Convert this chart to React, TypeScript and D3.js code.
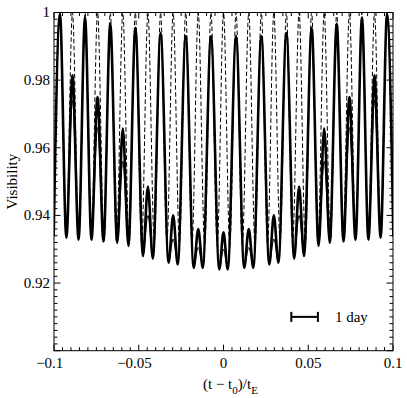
import * as d3 from 'd3';

const width = 407;
const height = 398;
const margin = { top: 12.5, right: 14, bottom: 47.3, left: 54 };

// keypoints (peaks / troughs) of the two solid curves
const keyX = [-0.1002, -0.0965, -0.0927, -0.0891, -0.0855, -0.0817, -0.0779, -0.0743, -0.0708, -0.0668,
  -0.0627, -0.0594, -0.0561, -0.0520, -0.0475, -0.0446, -0.0417, -0.0371, -0.0324, -0.0297, -0.0270,
  -0.0223, -0.0176, -0.0149, -0.0122, -0.0074, -0.0025, 0, 0.0025, 0.0074, 0.0122, 0.0149, 0.0176,
  0.0223, 0.0270, 0.0297, 0.0324, 0.0371, 0.0417, 0.0446, 0.0475, 0.0520, 0.0561, 0.0594, 0.0627,
  0.0668, 0.0708, 0.0743, 0.0779, 0.0817, 0.0855, 0.0891, 0.0927, 0.0965, 0.1002];

const thickV = [0.9338, 0.9997, 0.9334, 0.9814, 0.9328, 0.9985, 0.9328, 0.9750, 0.9323, 0.9967,
  0.9319, 0.9657, 0.9310, 0.9955, 0.9280, 0.9485, 0.9272, 0.9940, 0.9260, 0.9400, 0.9255,
  0.9930, 0.9245, 0.9360, 0.9245, 0.9930, 0.9240, 0.9350, 0.9240, 0.9930, 0.9245, 0.9360, 0.9245,
  0.9930, 0.9255, 0.9400, 0.9260, 0.9940, 0.9272, 0.9485, 0.9280, 0.9955, 0.9310, 0.9657, 0.9319,
  0.9967, 0.9323, 0.9750, 0.9328, 0.9985, 0.9328, 0.9814, 0.9334, 0.9997, 0.9338];

const thinV = [0.9340, 0.9992, 0.9336, 0.9740, 0.9330, 0.9980, 0.9330, 0.9660, 0.9325, 0.9962,
  0.9321, 0.9560, 0.9312, 0.9950, 0.9285, 0.9400, 0.9277, 0.9935, 0.9265, 0.9330, 0.9260,
  0.9925, 0.9250, 0.9305, 0.9250, 0.9925, 0.9245, 0.9300, 0.9245, 0.9925, 0.9250, 0.9305, 0.9250,
  0.9925, 0.9260, 0.9330, 0.9265, 0.9935, 0.9277, 0.9400, 0.9285, 0.9950, 0.9312, 0.9560, 0.9321,
  0.9962, 0.9325, 0.9660, 0.9330, 0.9980, 0.9330, 0.9740, 0.9336, 0.9992, 0.9340];

// dashed curve keypoints
const dashX = [-0.1002, -0.0965, -0.0928, -0.0891, -0.0854, -0.0817, -0.0780, -0.0743, -0.0705, -0.0668,
  -0.0631, -0.0594, -0.0557, -0.0520, -0.0483, -0.0446, -0.0408, -0.0371, -0.0334, -0.0297, -0.0260,
  -0.0223, -0.0186, -0.0149, -0.0111, -0.0074, -0.0037, 0, 0.0037, 0.0074, 0.0111, 0.0149, 0.0186,
  0.0223, 0.0260, 0.0297, 0.0334, 0.0371, 0.0408, 0.0446, 0.0483, 0.0520, 0.0557, 0.0594, 0.0631,
  0.0668, 0.0705, 0.0743, 0.0780, 0.0817, 0.0854, 0.0891, 0.0928, 0.0965, 0.1002];

const dashV = [0.9338, 1, 0.9336, 1, 0.9330, 1, 0.9330, 1, 0.9325, 1,
  0.9322, 1, 0.9315, 1, 0.9315, 1, 0.9320, 1, 0.9320, 1, 0.9316,
  1, 0.9312, 1, 0.9310, 1, 0.9310, 1, 0.9310, 1, 0.9310, 1, 0.9312,
  1, 0.9316, 1, 0.9320, 1, 0.9320, 1, 0.9315, 1, 0.9315, 1, 0.9322,
  1, 0.9325, 1, 0.9330, 1, 0.9330, 1, 0.9336, 1, 0.9338];

const xTickValues = [-0.1, -0.05, 0, 0.05, 0.1];
const xTickLabels = ['\u22120.1', '\u22120.05', '0', '0.05', '0.1'];
const yTickValues = [0.92, 0.94, 0.96, 0.98, 1];
const yTickLabels = ['0.92', '0.94', '0.96', '0.98', '1'];

const dayBar = [0.04, 0.0557];
const dayLevel = 0.91;

const font = '"Liberation Serif", "Times New Roman", serif';
const fs = 15;

// approx width of the digits part of a label, for centring the number on its tick
const digitsWidth = (s: string) =>
  s.replace('\u2212', '').split('').reduce((w, c) => w + (c === '.' ? 0.25 : 0.5) * fs, 0);

export default function App() {
  const x = d3.scaleLinear().domain([-0.1, 0.1]).range([margin.left, width - margin.right]);
  const y = d3.scaleLinear().domain([0.9, 1]).range([height - margin.bottom, margin.top]);

  const line = d3.line<[number, number]>()
    .x(d => x(d[0]))
    .y(d => y(d[1]))
    .curve(d3.curveMonotoneX);

  const thick = line(keyX.map((v, i) => [v, thickV[i]]));
  const thin = line(keyX.map((v, i) => [v, thinV[i]]));
  const dashed = line(dashX.map((v, i) => [v, dashV[i]]));

  const x0 = x(-0.1), x1 = x(0.1), y0 = y(0.9), y1 = y(1);
  const isMajor = (v: number, step: number) => Math.abs(v / step - Math.round(v / step)) < 1e-6;

  const xMinor = x.ticks(40);
  const yMinor = y.ticks(50);

  return (
    <div style={{ position: 'fixed', left: 0, top: 0 }}>
      <svg width={width} height={height} style={{ display: 'block', background: '#fff' }}>
        <defs>
          <clipPath id="plot">
            <rect x={x0} y={y1} width={x1 - x0} height={y0 - y1} />
          </clipPath>
        </defs>
        <g clipPath="url(#plot)" fill="none" stroke="#000">
          <path d={dashed ?? ''} strokeWidth={1} strokeDasharray="4.5,2.5" />
          <path d={thin ?? ''} strokeWidth={1} />
          <path d={thick ?? ''} strokeWidth={2.6} />
        </g>

        {/* ticks on all four sides, pointing inward */}
        <g stroke="#000" strokeWidth={1}>
          {xMinor.map(t => {
            const len = isMajor(t, 0.05) ? 6 : 3.5;
            return (
              <g key={'x' + t}>
                <line x1={x(t)} x2={x(t)} y1={y0} y2={y0 - len} />
                <line x1={x(t)} x2={x(t)} y1={y1} y2={y1 + len} />
              </g>
            );
          })}
          {yMinor.map(t => {
            const len = isMajor(t, 0.02) ? 6.5 : 3.5;
            return (
              <g key={'y' + t}>
                <line x1={x0} x2={x0 + len} y1={y(t)} y2={y(t)} />
                <line x1={x1} x2={x1 - len} y1={y(t)} y2={y(t)} />
              </g>
            );
          })}
        </g>
        <rect x={x0} y={y1} width={x1 - x0} height={y0 - y1} fill="none" stroke="#000" strokeWidth={1} />

        <g fontFamily={font} fontSize={fs} fill="#000">
          {xTickValues.map((v, i) => (
            <text key={'xl' + i} x={x(v) + digitsWidth(xTickLabels[i]) / 2} y={y0 + 17.5} textAnchor="end">
              {xTickLabels[i]}
            </text>
          ))}
          {yTickValues.map((v, i) => (
            <text key={'yl' + i} x={x0 - 4} y={y(v)} dy="0.33em" textAnchor="end">
              {yTickLabels[i]}
            </text>
          ))}
          <text transform={`translate(17, ${(y0 + y1) / 2}) rotate(-90)`} textAnchor="middle">Visibility</text>
          <text x={203} y={389}>
            (t − t<tspan dy={5} fontSize={11}>0</tspan><tspan dy={-5}>)/t</tspan><tspan dy={5} fontSize={11}>E</tspan>
          </text>

          {/* 1 day scale bar */}
          <g stroke="#000" strokeWidth={2}>
            <line x1={x(dayBar[0])} x2={x(dayBar[1])} y1={y(dayLevel)} y2={y(dayLevel)} />
            <line x1={x(dayBar[0])} x2={x(dayBar[0])} y1={y(dayLevel) - 5} y2={y(dayLevel) + 5} />
            <line x1={x(dayBar[1])} x2={x(dayBar[1])} y1={y(dayLevel) - 5} y2={y(dayLevel) + 5} />
          </g>
          <text x={x(dayBar[1]) + 17} y={y(dayLevel) + 5}>1 day</text>
        </g>
      </svg>
    </div>
  );
}
